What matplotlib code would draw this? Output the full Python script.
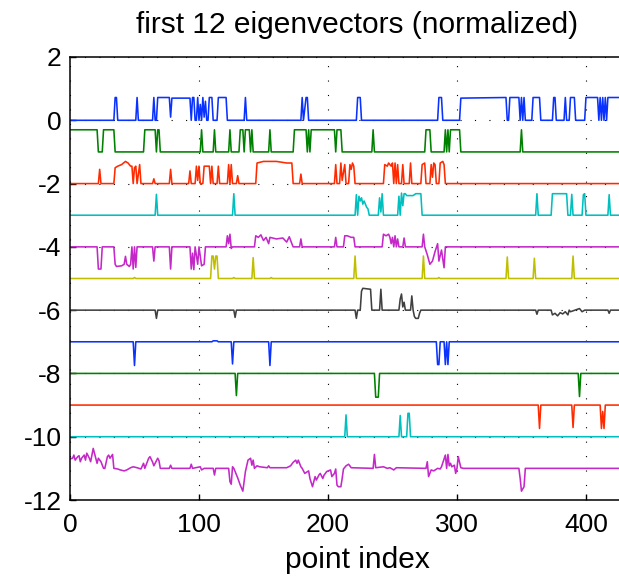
import numpy as np
import matplotlib
matplotlib.use('Agg')
import matplotlib.pyplot as plt

plt.rcParams['font.family'] = ['Liberation Sans', 'DejaVu Sans']
plt.rcParams['axes.unicode_minus'] = False

# each eigenvector: (point index, value) pairs,
# values relative to the trace's own baseline (trace k is drawn at -k)
ev1 = [(0, 0), (34, 0), (35, .72), (36, .72), (37, 0), (51, 0), (52, .72), (53, 0),
       (64, 0), (65, .72), (66, 0), (67, 0), (68, .72), (77, .72), (78, .1), (79, .70),
       (93, .70), (94, 0), (95, .72), (96, .72), (97, 0), (98, 0), (99, .72), (100, 0),
       (101, .5), (102, 0), (103, .72), (104, .1), (105, .6), (106, 0), (107, 0),
       (108, .72), (110, .72), (111, 0), (114, 0), (115, .72), (121, .72), (122, 0),
       (135, 0), (136, .72), (137, 0), (179, 0), (180, .72), (181, 0), (183, .72),
       (184, .72), (185, 0), (222, 0), (223, .72), (225, .72), (226, 0), (285, 0),
       (286, .72), (288, .72), (289, 0), (302, 0), (303, .70), (338, .72), (339, 0),
       (340, 0), (341, .72), (348, .72), (349, 0), (350, .72), (351, 0), (352, .72),
       (353, 0), (358, 0), (359, .72), (364, .72), (365, 0), (374, 0), (375, .72),
       (376, .72), (377, 0), (383, 0), (384, .72), (385, 0), (387, 0), (388, .72),
       (391, .72), (392, 0), (399, 0), (400, .72), (409, .72), (410, 0), (411, .72),
       (412, 0), (413, .72), (414, 0), (415, .72), (416, 0), (417, .72), (445, .72)]
ev2 = [(0, .70), (21, .70), (22, 0), (25, 0), (26, .70), (34, .70), (35, 0), (57, 0),
       (58, .70), (66, .70), (67, 0), (68, .70), (69, .70), (70, 0), (101, 0),
       (102, .70), (103, 0), (111, 0), (112, .70), (113, 0), (123, 0), (124, .70),
       (125, 0), (131, 0), (132, .70), (134, .70), (135, 0), (136, .70), (139, .70),
       (140, 0), (141, .70), (142, 0), (154, 0), (155, .70), (156, 0), (173, 0),
       (174, .70), (183, .70), (184, 0), (185, .70), (186, 0), (187, .70), (205, .70),
       (206, 0), (207, .70), (210, .70), (211, 0), (234, 0), (235, .70), (236, 0),
       (275, 0), (276, .70), (279, .70), (280, 0), (290, 0), (291, .7), (292, 0),
       (293, .7), (294, 0), (295, .7), (296, .7), (302, .70), (303, 0), (349, 0),
       (350, .70), (351, 0), (445, 0)]
ev3 = [(0, 0), (22, 0), (23, .45), (24, 0), (34, 0), (35, .5), (37, .55), (40, .6),
       (43, .7), (45, .65), (47, .55), (48, .55), (49, 0), (50, .5), (51, .55), (52, 0),
       (54, .6), (55, 0), (64, 0), (65, .15), (66, 0), (77, 0), (78, .45), (79, 0),
       (92, 0), (93, .4), (94, 0), (97, 0), (98, .55), (99, .1), (100, .55), (101, 0),
       (103, 0), (104, .55), (108, .55), (109, 0), (110, .55), (111, 0), (114, 0),
       (115, .55), (116, 0), (122, 0), (123, .6), (124, 0), (125, .6), (126, 0),
       (129, 0), (130, .25), (131, 0), (144, 0), (145, .65), (150, .7), (160, .7),
       (168, .65), (172, .65), (173, 0), (178, 0), (179, .3), (180, 0), (205, 0),
       (206, .6), (207, 0), (209, 0), (210, .65), (211, .1), (213, .6), (214, 0),
       (216, 0), (217, .6), (218, .45), (219, .65), (220, .55), (221, 0), (243, 0),
       (244, .6), (246, .55), (247, .65), (249, .55), (250, .65), (251, 0), (252, .65),
       (253, 0), (254, .6), (255, 0), (257, 0), (258, .6), (259, 0), (263, 0),
       (264, .65), (265, 0), (272, 0), (273, .6), (275, .65), (276, 0), (279, 0),
       (280, .6), (281, .2), (282, .65), (283, .6), (284, 0), (286, 0), (287, .65),
       (289, .7), (290, .6), (291, 0), (445, 0)]
ev4 = [(0, 0), (66, 0), (67, .66), (68, 0), (126, 0), (127, .68), (128, 0), (221, 0),
       (222, .65), (223, 0), (224, .6), (225, .45), (226, .55), (227, .35), (228, .45),
       (229, .35), (230, .25), (231, .2), (232, 0), (239, 0), (240, .55), (241, .1),
       (242, .68), (243, 0), (254, 0), (255, .6), (256, 0), (257, .7), (258, .3),
       (259, .68), (260, .68), (261, .62), (266, .62), (268, .68), (272, .68),
       (273, 0), (361, 0), (362, .68), (363, 0), (373, 0), (374, .68), (385, .68),
       (386, 0), (388, 0), (389, .66), (390, 0), (397, 0), (398, .65), (399, .68),
       (400, 0), (417, 0), (418, .65), (419, 0), (445, 0)]
ev5 = [(0, 0), (21, 0), (22, -.7), (24, -.7), (25, 0), (34, 0), (35, -.55), (36, -.62),
       (40, -.6), (42, -.55), (43, -.3), (44, -.55), (46, -.62), (47, -.55), (48, 0),
       (49, -.7), (50, 0), (51, -.65), (52, 0), (64, 0), (65, -.45), (66, 0), (77, 0),
       (78, -.7), (79, 0), (93, 0), (94, -.7), (95, -.2), (96, -.72), (97, 0),
       (99, -.55), (100, 0), (102, -.6), (104, -.55), (105, 0), (121, 0), (122, .35),
       (123, .1), (124, .4), (125, -.05), (126, 0), (143, 0), (144, .35), (146, .3),
       (148, .38), (150, .2), (152, .3), (154, .1), (155, .3), (160, .25), (165, .28),
       (168, .15), (170, .32), (172, .1), (173, 0), (178, 0), (179, .25), (180, 0),
       (205, 0), (206, .3), (207, 0), (212, 0), (213, .35), (215, .35), (218, .3),
       (220, .3), (221, 0), (242, 0), (243, .4), (245, .35), (247, .4), (248, .3),
       (249, .1), (250, .3), (251, 0), (252, .35), (253, 0), (254, .25), (255, 0),
       (258, 0), (259, .28), (260, 0), (273, 0), (274, .4), (275, 0), (277, -.25),
       (279, -.55), (281, -.45), (283, -.15), (285, .1), (286, -.45), (288, -.1),
       (290, -.66), (291, 0), (445, 0)]
ev6 = [(0, 0), (49, 0), (50, .03), (51, 0), (109, 0), (110, .71), (111, .71), (112, .3),
       (113, .71), (114, .71), (115, 0), (126, 0), (127, .03), (128, 0), (141, 0),
       (142, .66), (143, 0), (155, 0), (156, .03), (157, 0), (220, 0), (221, .71),
       (222, 0), (273, 0), (274, .71), (275, 0), (285, 0), (286, .03), (287, 0),
       (338, 0), (339, .68), (340, 0), (359, 0), (360, .64), (361, 0), (389, 0),
       (390, .71), (391, 0), (445, 0)]
ev7 = [(0, 0), (66, 0), (67, -.26), (68, 0), (127, 0), (128, -.23), (129, 0), (221, 0),
       (222, -.26), (223, 0), (225, 0), (226, .6), (227, .69), (233, .66), (234, 0),
       (240, 0), (241, .66), (242, 0), (255, 0), (256, .35), (257, .51), (258, .1),
       (259, .25), (260, 0), (264, 0), (265, .45), (266, 0), (267, -.2), (268, -.26),
       (270, -.26), (271, -.1), (272, 0), (361, 0), (362, -.13), (363, 0), (373, 0),
       (374, -.15), (376, -.1), (378, -.18), (380, -.08), (382, -.12), (384, -.05),
       (386, -.15), (387, 0), (388, -.05), (395, .05), (397, -.05), (399, 0),
       (417, 0), (418, -.1), (419, 0), (445, 0)]
ev8 = [(0, 0), (49, 0), (50, -.75), (51, 0), (110, 0), (111, .03), (114, .03), (115, 0),
       (125, 0), (126, -.70), (127, 0), (154, 0), (155, -.75), (156, 0), (284, 0),
       (285, -.72), (286, -.72), (287, 0), (290, 0), (291, -.72), (292, 0),
       (293, -.72), (294, 0), (445, 0)]
ev9 = [(0, 0), (128, 0), (129, -.7), (130, 0), (236, 0), (237, -.75), (239, -.75),
       (240, 0), (394, 0), (395, -.73), (396, 0), (445, 0)]
ev10 = [(0, 0), (363, 0), (364, -.74), (365, 0), (389, 0), (390, -.71), (391, 0),
        (411, 0), (412, -.74), (413, -.2), (414, -.74), (415, 0), (445, 0)]
ev11 = [(0, 0), (213, 0), (214, .69), (215, 0), (255, 0), (256, .67), (257, 0),
        (261, 0), (262, .74), (263, .74), (264, 0), (445, 0)]
ev12 = [(0, .3), (2, .32), (3, .42), (4, .26), (6, .37), (7, .4), (8, .21), (9, .32),
        (11, .42), (12, .26), (13, .48), (15, .32), (16, .21), (17, .42), (18, .63),
        (20, .32), (21, .16), (22, .32), (24, .21), (25, .1), (26, 0), (27, 0),
        (29, .37), (30, .42), (31, .32), (33, .44), (34, 0), (37, -.02), (39, -.05),
        (42, -.08), (44, -.05), (47, .02), (49, .05), (52, .02), (55, -.02), (57, .16),
        (58, 0), (60, .21), (61, .32), (62, .37), (64, .2), (65, .08), (66, .16),
        (68, .32), (69, .24), (70, 0), (77, 0), (78, .1), (79, 0), (93, 0), (94, .13),
        (95, 0), (101, .05), (102, -.05), (104, 0), (111, 0), (112, -.21), (113, 0),
        (123, 0), (124, -.42), (125, -.5), (126, .05), (127, 0), (130, -.3),
        (132, -.53), (134, -.72), (135, -.42), (136, -.1), (138, .26), (140, .32),
        (141, .1), (142, .26), (143, 0), (145, .08), (147, .05), (153, .02),
        (154, .08), (155, .02), (168, .02), (171, .08), (173, .19), (175, .26),
        (176, .16), (177, .26), (179, .05), (180, 0), (182, -.16), (185, -.08),
        (186, -.32), (188, -.58), (189, -.42), (190, -.26), (191, -.37), (193, -.21),
        (194, -.16), (196, -.32), (197, -.21), (198, -.16), (199, -.1), (202, -.05),
        (203, -.26), (205, -.16), (206, -.02), (207, -.53), (208, -.58), (210, -.58),
        (211, -.32), (212, -.02), (214, .08), (216, .13), (218, .02), (235, 0),
        (236, .44), (237, .02), (243, .05), (246, 0), (248, .02), (251, -.05),
        (253, .02), (276, 0), (277, .21), (278, -.26), (280, -.05), (282, -.08),
        (285, 0), (287, -.02), (288, .05), (291, .42), (292, 0), (293, .44),
        (294, .08), (295, .16), (296, .05), (298, .1), (299, -.16), (300, 0),
        (301, .37), (303, .02), (305, 0), (348, 0), (349, -.32), (350, -.72),
        (352, -.58), (353, 0), (445, 0)]

traces = [ev1, ev2, ev3, ev4, ev5, ev6, ev7, ev8, ev9, ev10, ev11, ev12]
colours = ['#0a32ff', '#008000', '#ff2a00', '#00bfbf', '#c428c8', '#bfbf00',
           '#404040']

fig = plt.figure(figsize=(6.19, 5.78), dpi=100)
# axes runs past the right border of the picture, as in the original
ax = fig.add_axes([70 / 619, 78 / 578, 574 / 619, 443 / 578])

for k, tr in enumerate(traces):
    pts = np.array(tr, dtype=float)
    ax.plot(pts[:, 0], pts[:, 1] - k, color=colours[k % 7], lw=1.15)

ax.set_xlim(0, 445)
ax.set_ylim(-12, 2)
ax.set_xticks([0, 100, 200, 300, 400])
ax.set_yticks(range(-12, 3, 2))
ax.grid(True, linestyle=(0, (1, 12)), color='k', linewidth=0.8)
ax.set_axisbelow(True)
ax.tick_params(direction='in', length=4, width=1, labelsize=19)
ax.tick_params(axis='x', pad=9)
ax.tick_params(axis='y', pad=6)
for s in ax.spines.values():
    s.set_linewidth(1.1)
ax.set_title('first 12 eigenvectors (normalized)', fontsize=21.5, pad=17)
ax.set_xlabel('point index', fontsize=21.5, labelpad=7)

fig.savefig('out.png', dpi=100)
